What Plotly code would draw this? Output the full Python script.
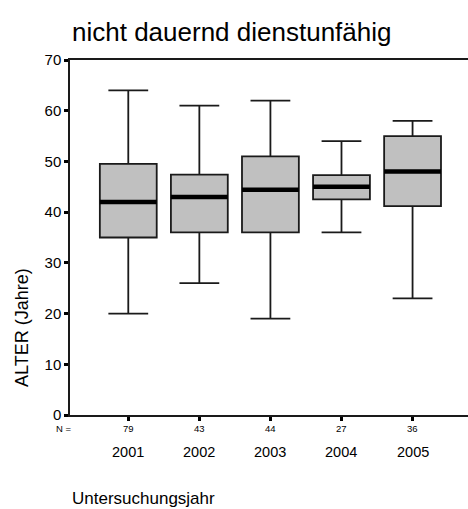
import plotly.graph_objects as go

# Age of examined officers (not permanently unfit for duty), per examination year
years = ["2001", "2002", "2003", "2004", "2005"]
counts = [79, 43, 44, 27, 36]
lower_whisker = [20, 26, 19, 36, 23]
q1 = [35, 36, 36, 42.5, 41.2]
median = [42, 43, 44.4, 45, 48]
q3 = [49.5, 47.4, 51, 47.3, 55]
upper_whisker = [64, 61, 62, 54, 58]

FONT = "Liberation Sans, Arial, sans-serif"
BOX_W = 0.8
pos = list(range(len(years)))

fig = go.Figure()

fig.add_trace(go.Box(
    x=pos,
    q1=q1,
    median=median,
    q3=q3,
    lowerfence=lower_whisker,
    upperfence=upper_whisker,
    width=BOX_W,
    whiskerwidth=0.7,
    fillcolor="#c0c0c0",
    line=dict(color="#1a1a1a", width=1.8),
    boxpoints=False,
    hoverinfo="skip",
    showlegend=False,
))

# thick median bars drawn over each box
mx, my = [], []
for p, m in zip(pos, median):
    mx += [p - BOX_W / 2, p + BOX_W / 2, None]
    my += [m, m, None]
fig.add_trace(go.Scatter(
    x=mx, y=my, mode="lines",
    line=dict(color="black", width=4.5),
    hoverinfo="skip", showlegend=False,
))

annotations = []
# case counts under each category
annotations.append(dict(
    x=(64 - 70) / 398, xref="paper", y=-0.0394, yref="paper",
    text="N =", showarrow=False, xanchor="center", yanchor="middle",
    font=dict(family=FONT, size=9.5, color="black"),
))
for p, n, yr in zip(pos, counts, years):
    annotations.append(dict(
        x=p, xref="x", y=-0.0394, yref="paper",
        text=str(n), showarrow=False, xanchor="center", yanchor="middle",
        font=dict(family=FONT, size=9.5, color="black"),
    ))
    annotations.append(dict(
        x=p, xref="x", y=-0.1034, yref="paper",
        text=yr, showarrow=False, xanchor="center", yanchor="middle",
        font=dict(family=FONT, size=14.5, color="black"),
    ))

# title
annotations.append(dict(
    x=0, xref="paper", y=(415 - 32) / 355, yref="paper",
    text="nicht dauernd dienstunfähig", showarrow=False,
    xanchor="left", yanchor="middle",
    font=dict(family=FONT, size=26, color="black"),
))
# y-axis title
annotations.append(dict(
    x=(22 - 70) / 398, xref="paper", y=(415 - 328) / 355, yref="paper",
    text="ALTER (Jahre)", showarrow=False, textangle=-90,
    xanchor="center", yanchor="middle",
    font=dict(family=FONT, size=18, color="black"),
))
# x-axis title
annotations.append(dict(
    x=0, xref="paper", y=(415 - 499) / 355, yref="paper",
    text="Untersuchungsjahr", showarrow=False,
    xanchor="left", yanchor="middle",
    font=dict(family=FONT, size=17, color="black"),
))

fig.update_layout(
    width=468, height=509,
    margin=dict(l=70, r=0, t=60, b=94),
    paper_bgcolor="white", plot_bgcolor="white",
    annotations=annotations,
    font=dict(family=FONT, color="black"),
    showlegend=False,
)
fig.update_xaxes(
    range=[-0.82, 4.78],
    tickvals=pos, showticklabels=False,
    ticks="outside", ticklen=4, tickwidth=3, tickcolor="black",
    showline=True, linecolor="#1a1a1a", linewidth=1.5, mirror=True,
    showgrid=False, zeroline=False,
)
fig.update_yaxes(
    range=[0, 70], dtick=10,
    ticks="outside", ticklen=4, tickwidth=3, tickcolor="black",
    tickfont=dict(family=FONT, size=15, color="black"),
    showline=True, linecolor="#1a1a1a", linewidth=1.5, mirror=False,
    showgrid=False, zeroline=False,
)

fig.write_html("out.html")
